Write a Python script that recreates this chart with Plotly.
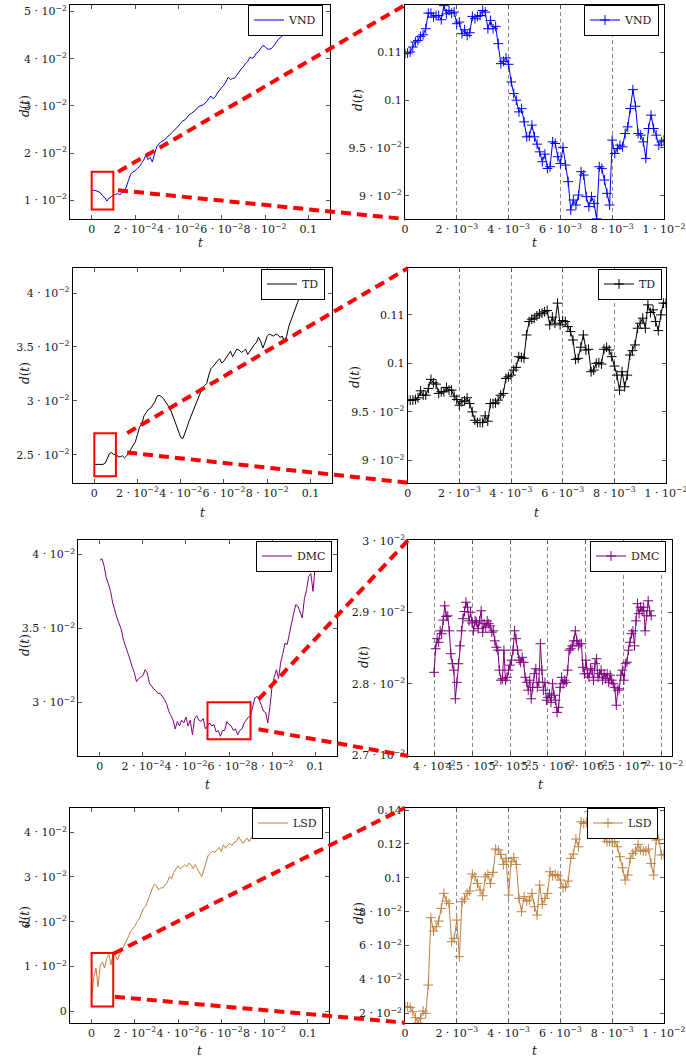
import plotly.graph_objects as go

FONT = "DejaVu Serif"
FS = 11
W, H = 686, 1061

# ---------------- data ----------------
t_long = [round(i * 0.001, 4) for i in range(101)]          # 0 .. 0.1
t_short = [round(i * 0.0001, 5) for i in range(101)]        # 0 .. 0.01
t_dmc_short = [round(0.04 + i * 0.0002, 5) for i in range(144)]  # 0.04 .. 0.0686

# long series, values in units of 1e-2
vnd_long = [1.20, 1.21, 1.20, 1.18, 1.16, 1.09, 1.06, 0.98, 1.04, 1.07,
            1.11, 1.12, 1.14, 1.11, 1.16, 1.18, 1.28, 1.42, 1.55, 1.60,
            1.62, 1.67, 1.71, 1.78, 1.85, 1.96, 1.86, 1.91, 1.81, 1.98,
            2.13, 2.19, 2.24, 2.26, 2.29, 2.35, 2.38, 2.43, 2.47, 2.52,
            2.57, 2.63, 2.68, 2.70, 2.76, 2.81, 2.84, 2.87, 2.91, 2.97,
            3.00, 3.01, 3.04, 3.09, 3.14, 3.21, 3.15, 3.19, 3.27, 3.34,
            3.39, 3.44, 3.51, 3.61, 3.56, 3.58, 3.59, 3.65, 3.73, 3.78,
            3.83, 3.90, 3.94, 4.03, 4.01, 4.04, 4.12, 4.15, 4.22, 4.28,
            4.26, 4.21, 4.20, 4.22, 4.27, 4.34, 4.40, 4.45, 4.48, 4.53,
            4.60, 4.65, 4.70, 4.74, 4.78, 4.82, 4.86, 4.90, 4.95, 5.00,
            5.04]
td_long = [2.41, 2.41, 2.41, 2.41, 2.41, 2.42, 2.46, 2.51, 2.52, 2.50,
           2.51, 2.48, 2.48, 2.49, 2.47, 2.49, 2.52, 2.55, 2.59, 2.62,
           2.69, 2.76, 2.79, 2.86, 2.89, 2.92, 2.93, 2.96, 2.99, 3.04,
           3.05, 3.04, 3.02, 2.99, 2.96, 2.93, 2.88, 2.82, 2.76, 2.72,
           2.66, 2.65, 2.70, 2.76, 2.82, 2.87, 2.92, 2.96, 3.01, 3.07,
           3.12, 3.14, 3.16, 3.24, 3.30, 3.32, 3.35, 3.37, 3.39, 3.35,
           3.37, 3.40, 3.43, 3.46, 3.41, 3.44, 3.48, 3.47, 3.45, 3.46,
           3.48, 3.43, 3.46, 3.50, 3.52, 3.54, 3.59, 3.55, 3.49, 3.54,
           3.60, 3.62, 3.61, 3.60, 3.62, 3.61, 3.59, 3.60, 3.55, 3.60,
           3.69, 3.75, 3.81, 3.86, 3.91, 3.96, 4.00, 4.02, 4.05, 4.08,
           4.10]
dmc_long = [3.96, 3.97, 3.92, 3.84, 3.80, 3.75, 3.67, 3.61, 3.57, 3.53,
            3.49, 3.42, 3.38, 3.33, 3.29, 3.24, 3.20, 3.14, 3.16, 3.17,
            3.18, 3.22, 3.20, 3.13, 3.11, 3.09, 3.08, 3.06, 3.06, 3.04,
            3.02, 2.99, 2.94, 2.91, 2.88, 2.82, 2.87, 2.84, 2.88, 2.86,
            2.90, 2.84, 2.88, 2.78, 2.89, 2.91, 2.88, 2.87, 2.89, 2.82,
            2.84, 2.86, 2.84, 2.85, 2.80, 2.81, 2.77, 2.81, 2.81, 2.87,
            2.85, 2.84, 2.81, 2.82, 2.78, 2.81, 2.82, 2.86, 2.88, 2.90,
            2.91, 2.98, 3.03, 3.04, 3.02, 2.98, 2.94, 2.93, 2.86, 2.97,
            3.11, 3.17, 3.22, 3.16, 3.27, 3.33, 3.40, 3.39, 3.47, 3.53,
            3.60, 3.66, 3.65, 3.61, 3.57, 3.70, 3.76, 3.85, 3.87, 3.75,
            3.92]
lsd_long = [0.30, 0.75, 0.96, 0.54, 1.03, 1.10, 0.96, 1.18, 1.27, 1.03,
            1.33, 1.25, 1.14, 1.27, 1.37, 1.44, 1.55, 1.66, 1.78, 1.85,
            1.89, 2.00, 2.06, 2.19, 2.30, 2.34, 2.45, 2.60, 2.73, 2.84,
            2.81, 2.71, 2.76, 2.75, 2.82, 2.88, 3.01, 2.96, 3.10, 3.19,
            3.25, 3.18, 3.23, 3.27, 3.23, 3.31, 3.27, 3.19, 3.28, 3.16,
            3.08, 3.01, 3.18, 3.38, 3.49, 3.53, 3.58, 3.55, 3.60, 3.66,
            3.57, 3.72, 3.64, 3.72, 3.75, 3.70, 3.78, 3.79, 3.90, 3.83,
            3.75, 3.81, 3.87, 3.79, 3.90, 3.94, 3.88, 3.96, 4.01, 3.96,
            4.05, 3.98, 3.88, 4.00, 4.03, 3.96, 4.05, 4.00, 4.09, 4.03,
            4.10, 4.05, 4.09, 3.93, 4.05, 4.10, 4.12, 4.08, 4.15, 4.12,
            4.18]

# zoomed series (absolute values)
vnd_short = [0.10483, 0.10490, 0.10500, 0.10552, 0.10604, 0.10621, 0.10663, 0.10680, 0.10743, 0.10905,
             0.10905, 0.10864, 0.10881, 0.10881, 0.10836, 0.10983, 0.10898, 0.10933, 0.10905, 0.10916,
             0.10795, 0.10812, 0.10691, 0.10732, 0.10673, 0.10701, 0.10871, 0.10847, 0.10871, 0.10881,
             0.10933, 0.10916, 0.10743, 0.10829, 0.10743, 0.10767, 0.10587, 0.10379, 0.10403, 0.10438,
             0.10372, 0.10188, 0.10067, 0.09998, 0.09876, 0.09911, 0.09772, 0.09616, 0.09623, 0.09738,
             0.09616, 0.09540, 0.09460, 0.09357, 0.09436, 0.09287, 0.09305, 0.09564, 0.09547, 0.09409,
             0.09339, 0.09506, 0.09322, 0.09149, 0.08854, 0.08958, 0.08906, 0.09010, 0.09253, 0.09218,
             0.08993, 0.08889, 0.08993, 0.08923, 0.08762, 0.09305, 0.09287, 0.09166, 0.09027, 0.08906,
             0.09582, 0.09443, 0.09495, 0.09530, 0.09512, 0.09651, 0.09720, 0.09911, 0.10108, 0.09935,
             0.09651, 0.09634, 0.09564, 0.09391, 0.09703, 0.09842, 0.09703, 0.09634, 0.09530, 0.09564,
             0.09582]
td_short = [0.09621, 0.09621, 0.09621, 0.09628, 0.09645, 0.09717, 0.09672, 0.09672, 0.09741, 0.09835,
            0.09800, 0.09786, 0.09690, 0.09707, 0.09707, 0.09752, 0.09724, 0.09724, 0.09662, 0.09628,
            0.09569, 0.09604, 0.09614, 0.09645, 0.09586, 0.09500, 0.09414, 0.09390, 0.09390, 0.09390,
            0.09459, 0.09404, 0.09586, 0.09586, 0.09593, 0.09621, 0.09672, 0.09690, 0.09845, 0.09862,
            0.09879, 0.09931, 0.09959, 0.10069, 0.10062, 0.10052, 0.10293, 0.10431, 0.10455, 0.10466,
            0.10490, 0.10510, 0.10517, 0.10531, 0.10545, 0.10397, 0.10476, 0.10414, 0.10621, 0.10397,
            0.10441, 0.10431, 0.10379, 0.10328, 0.10241, 0.10041, 0.10052, 0.10166, 0.10293, 0.10138,
            0.10145, 0.09914, 0.09931, 0.10000, 0.10007, 0.09993, 0.10145, 0.10166, 0.10138, 0.10069,
            0.09972, 0.09879, 0.09724, 0.09914, 0.09759, 0.09879, 0.10086, 0.10131, 0.10190, 0.10362,
            0.10414, 0.10466, 0.10362, 0.10603, 0.10524, 0.10552, 0.10431, 0.10338, 0.10500, 0.10621,
            0.10621]
lsd_short = [0.02393, 0.02393, 0.02354, 0.02099, 0.01745, 0.01450, 0.01706, 0.02139, 0.02001, 0.03673,
             0.07647, 0.06860, 0.07115, 0.07450, 0.08197, 0.09083, 0.08630, 0.08492, 0.06230, 0.06427,
             0.07509, 0.05345, 0.08591, 0.08748, 0.09083, 0.09220, 0.10223, 0.10066, 0.09673, 0.09279,
             0.08945, 0.10066, 0.10204, 0.09673, 0.10322, 0.11699, 0.11640, 0.11384, 0.10794, 0.11148,
             0.08984, 0.10951, 0.11187, 0.10794, 0.08787, 0.08001, 0.08886, 0.08630, 0.08689, 0.09083,
             0.08296, 0.07804, 0.09574, 0.08433, 0.08787, 0.09083, 0.10361, 0.10125, 0.10204, 0.10125,
             0.09869, 0.09417, 0.09476, 0.09810, 0.11148, 0.11404, 0.12289, 0.11836, 0.13312, 0.13213,
             0.13272, 0.13902, 0.13213, 0.14130, 0.13508, 0.13115, 0.12918, 0.12328, 0.12131, 0.12131,
             0.12131, 0.12131, 0.11836, 0.11246, 0.10597, 0.09869, 0.10164, 0.11148, 0.11443, 0.11581,
             0.11974, 0.11640, 0.11581, 0.11581, 0.11699, 0.10853, 0.10164, 0.12230, 0.12269, 0.11345,
             0.11384]
# DMC zoom, units of 1e-2
dmc_short = [2.816, 2.849, 2.863, 2.858, 2.874, 2.870, 2.889, 2.909, 2.894, 2.895,
             2.874, 2.842, 2.828, 2.819, 2.779, 2.802, 2.828, 2.853, 2.874, 2.891,
             2.901, 2.914, 2.907, 2.888, 2.900, 2.885, 2.874, 2.888, 2.886, 2.877,
             2.888, 2.902, 2.872, 2.884, 2.879, 2.888, 2.884, 2.881, 2.872, 2.874,
             2.860, 2.851, 2.847, 2.819, 2.805, 2.807, 2.847, 2.805, 2.809, 2.819,
             2.826, 2.833, 2.847, 2.874, 2.863, 2.847, 2.833, 2.830, 2.837, 2.830,
             2.809, 2.802, 2.791, 2.805, 2.779, 2.795, 2.814, 2.821, 2.795, 2.802,
             2.856, 2.819, 2.791, 2.802, 2.777, 2.781, 2.786, 2.774, 2.800, 2.784,
             2.777, 2.760, 2.767, 2.795, 2.809, 2.800, 2.805, 2.802, 2.819, 2.847,
             2.849, 2.853, 2.860, 2.874, 2.860, 2.853, 2.856, 2.856, 2.823, 2.814,
             2.833, 2.814, 2.809, 2.821, 2.819, 2.805, 2.828, 2.835, 2.809, 2.814,
             2.819, 2.805, 2.814, 2.807, 2.814, 2.802, 2.812, 2.805, 2.800, 2.795,
             2.770, 2.791, 2.793, 2.812, 2.819, 2.805, 2.828, 2.830, 2.847, 2.858,
             2.870, 2.874, 2.853, 2.888, 2.912, 2.898, 2.907, 2.902, 2.907, 2.874,
             2.895, 2.916, 2.902, 2.895]

names = ["VND", "TD", "DMC", "LSD"]
colors = ["#0000ff", "#000000", "#800080", "#bf8040"]

# zoom windows drawn on the left panels [x0, x1, y0, y1]
zoom_boxes = [[0.0, 0.01, 0.008, 0.016],
              [0.0, 0.01, 0.023, 0.027],
              [0.05, 0.07, 0.0275, 0.030],
              [0.0, 0.01, 0.001, 0.013]]
# connector start points on the left panels (upper, lower)
conn_starts = [[(0.0122, 0.0160), (0.0122, 0.0121)],
               [(0.0152, 0.0270), (0.0152, 0.0252)],
               [(0.0737, 0.0302), (0.0737, 0.02818)],
               [(0.0103, 0.0129), (0.0108, 0.0032)]]


def sci(m, e):
    return f"{m} · 10<sup>−{e}</sup>"


left_xt = [0, 0.02, 0.04, 0.06, 0.08, 0.1]
left_xl = ["0", sci(2, 2), sci(4, 2), sci(6, 2), sci(8, 2), "0.1"]
right_xt = [0, 0.002, 0.004, 0.006, 0.008, 0.01]
right_xl = ["0", sci(2, 3), sci(4, 3), sci(6, 3), sci(8, 3), sci(1, 2)]
dmc_xt = [0.04, 0.045, 0.05, 0.055, 0.06, 0.065, 0.07]
dmc_xl = [sci(4, 2), sci(4.5, 2), sci(5, 2), sci(5.5, 2), sci(6, 2), sci(6.5, 2), sci(7, 2)]

panels = [
    dict(xr=[-0.01, 0.11], yr=[0.006, 0.0514], xt=left_xt, xl=left_xl,
         yt=[0.01, 0.02, 0.03, 0.04, 0.05], yl=[sci(k, 2) for k in [1, 2, 3, 4, 5]]),
    dict(xr=[-1e-9, 0.01 + 1e-9], yr=[0.0876, 0.1099], xt=right_xt, xl=right_xl,
         yt=[0.09, 0.095, 0.1, 0.105], yl=[sci(9, 2), sci(9.5, 2), "0.1", "0.11"]),
    dict(xr=[-0.01, 0.11], yr=[0.0224, 0.0423], xt=left_xt, xl=left_xl,
         yt=[0.025, 0.03, 0.035, 0.04], yl=[sci(2.5, 2), sci(3, 2), sci(3.5, 2), sci(4, 2)]),
    dict(xr=[-1e-9, 0.01 + 1e-9], yr=[0.0877, 0.1098], xt=right_xt, xl=right_xl,
         yt=[0.09, 0.095, 0.1, 0.105], yl=[sci(9, 2), sci(9.5, 2), "0.1", "0.11"]),
    dict(xr=[-0.01, 0.11], yr=[0.02637, 0.04097], xt=left_xt, xl=left_xl,
         yt=[0.03, 0.035, 0.04], yl=[sci(3, 2), sci(3.5, 2), sci(4, 2)]),
    dict(xr=[0.0366, 0.0713], yr=[0.02699, 0.03001], xt=dmc_xt, xl=dmc_xl,
         yt=[0.027, 0.028, 0.029, 0.03], yl=[sci(2.7, 2), sci(2.8, 2), sci(2.9, 2), sci(3, 2)]),
    dict(xr=[-0.01, 0.11], yr=[-0.0026, 0.0455], xt=left_xt, xl=left_xl,
         yt=[0, 0.01, 0.02, 0.03, 0.04], yl=["0"] + [sci(k, 2) for k in [1, 2, 3, 4]]),
    dict(xr=[-1e-9, 0.01 + 1e-9], yr=[0.0145, 0.1414], xt=right_xt, xl=right_xl,
         yt=[0.02, 0.04, 0.06, 0.08, 0.1, 0.12, 0.14],
         yl=[sci(2, 2), sci(4, 2), sci(6, 2), sci(8, 2), "0.1", "0.12", "0.14"]),
]

# pixel layout of each row: top, bottom, left-panel x-extent, right-panel x-extent
rows_px = [dict(top=5, bot=219, L=(70, 330), R=(405, 664)),
           dict(top=268.3, bot=482.7, L=(72.7, 332), R=(407.7, 666)),
           dict(top=540, bot=756, L=(78.3, 336.7), R=(408.3, 671.7)),
           dict(top=807.7, bot=1022.7, L=(70, 329.3), R=(405, 664))]
# legend right edge and vertical centre
legend_px = [(323, 20), (659, 20), (325, 284), (662, 284),
             (332, 556), (666, 556), (323, 823), (658, 823)]
ytitle_px = [(25, 106), (358, 100), (25, 373), (355, 377),
             (25, 645), (364, 657), (25, 917), (359, 913)]
xtitle_y = [243, 513, 785, 1051]

fig = go.Figure()
layout = dict(width=W, height=H, margin=dict(l=0, r=0, t=0, b=0, pad=0), autosize=False,
              paper_bgcolor="white", plot_bgcolor="white", showlegend=True,
              font=dict(family=FONT, size=FS, color="#1a1a1a"))
doms = []
for r, rp in enumerate(rows_px):
    ydom = [1 - rp["bot"] / H, 1 - rp["top"] / H]
    for key in ["L", "R"]:
        doms.append(([rp[key][0] / W, rp[key][1] / W], ydom))

shapes = []
annotations = []
for k in range(8):
    r, side = divmod(k, 2)
    p = panels[k]
    xdom, ydom = doms[k]
    sfx = "" if k == 0 else str(k + 1)
    xa = dict(domain=xdom, range=p["xr"], anchor="y" + sfx, tickmode="array",
              tickvals=p["xt"], ticktext=p["xl"], tickangle=0, automargin=False,
              ticklabeloverflow="allow",
              showline=True, linecolor="black", linewidth=1, mirror="ticks",
              ticks="inside", ticklen=4, tickcolor="#555", zeroline=False,
              showgrid=(side == 1), gridcolor="#8a8a8a", griddash="4px,3px", gridwidth=1,
              tickfont=dict(family=FONT, size=FS, color="#1a1a1a"))
    ya = dict(domain=ydom, range=p["yr"], anchor="x" + sfx, tickmode="array",
              tickvals=p["yt"], ticktext=p["yl"], automargin=False,
              ticklabeloverflow="allow",
              showline=True, linecolor="black", linewidth=1, mirror="ticks",
              ticks="inside", ticklen=4, tickcolor="#555", zeroline=False, showgrid=False,
              tickfont=dict(family=FONT, size=FS, color="#1a1a1a"))
    layout["xaxis" + sfx] = xa
    layout["yaxis" + sfx] = ya
    lg = "legend" + sfx
    lx, ly = legend_px[k]
    layout[lg] = dict(x=lx / W, y=1 - ly / H, xanchor="right", yanchor="middle",
                      xref="paper", yref="paper", bgcolor="white", bordercolor="black",
                      borderwidth=1, font=dict(family=FONT, size=FS, color="#1a1a1a"),
                      itemwidth=30, tracegroupgap=0)
    c = colors[r]
    if side == 0:
        ys = [v * 1e-2 for v in [vnd_long, td_long, dmc_long, lsd_long][r]]
        fig.add_trace(go.Scatter(x=t_long, y=ys, mode="lines", name=names[r],
                                 line=dict(color=c, width=1),
                                 xaxis="x" + sfx, yaxis="y" + sfx, legend=lg))
        b = zoom_boxes[r]
        shapes.append(dict(type="rect", xref="x" + sfx, yref="y" + sfx,
                           x0=b[0], x1=b[1], y0=b[2], y1=b[3],
                           line=dict(color="red", width=2), layer="above"))
    else:
        if r == 2:
            xs = t_dmc_short
            ys = [v * 1e-2 for v in dmc_short]
        else:
            xs = t_short
            ys = [vnd_short, td_short, None, lsd_short][r]
        fig.add_trace(go.Scatter(x=xs, y=ys, mode="lines+markers", name=names[r],
                                 line=dict(color=c, width=1),
                                 marker=dict(symbol="cross-thin", size=7,
                                             line=dict(width=1, color=c), color=c),
                                 xaxis="x" + sfx, yaxis="y" + sfx, legend=lg))
    tx, ty = ytitle_px[k]
    annotations.append(dict(x=tx / W, y=1 - ty / H, xref="paper", yref="paper",
                            xanchor="center", yanchor="middle",
                            text="<i>d</i>(<i>t</i>)", textangle=-90, showarrow=False,
                            font=dict(family=FONT, size=FS + 1, color="#1a1a1a")))
    annotations.append(dict(x=(xdom[0] + xdom[1]) / 2, y=1 - xtitle_y[r] / H,
                            xref="paper", yref="paper", xanchor="center", yanchor="middle",
                            text="<i>t</i>", showarrow=False,
                            font=dict(family=FONT, size=FS + 1, color="#1a1a1a")))


def to_paper(k, x, y):
    xdom, ydom = doms[k]
    p = panels[k]
    px = xdom[0] + (x - p["xr"][0]) / (p["xr"][1] - p["xr"][0]) * (xdom[1] - xdom[0])
    py = ydom[0] + (y - p["yr"][0]) / (p["yr"][1] - p["yr"][0]) * (ydom[1] - ydom[0])
    return px, py


for r in range(4):
    kl, kr = 2 * r, 2 * r + 1
    pr = panels[kr]
    ends = [(pr["xr"][0], pr["yr"][1]), (pr["xr"][0], pr["yr"][0])]
    for (sx, sy), (ex, ey) in zip(conn_starts[r], ends):
        x0, y0 = to_paper(kl, sx, sy)
        x1, y1 = to_paper(kr, ex, ey)
        shapes.append(dict(type="line", xref="paper", yref="paper",
                           x0=x0, y0=y0, x1=x1, y1=y1, layer="above",
                           line=dict(color="red", width=4, dash="10px,6px")))

layout["shapes"] = shapes
layout["annotations"] = annotations
fig.update_layout(**layout)
fig.write_html("out.html")
